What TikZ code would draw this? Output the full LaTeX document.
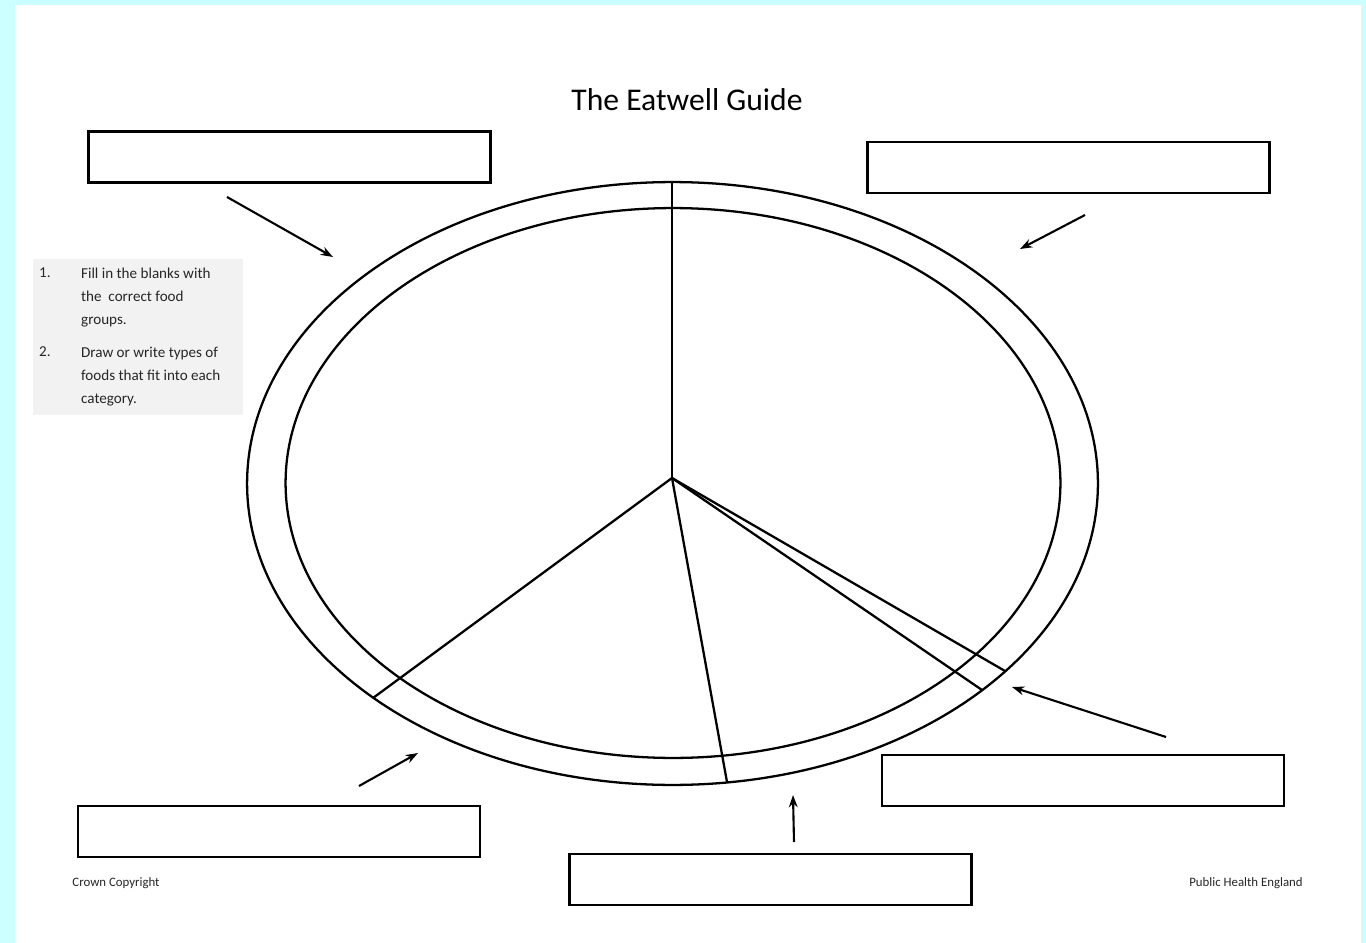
\documentclass[tikz,border=0pt]{standalone}
\usepackage{fontspec}
\setmainfont{Carlito}
\usetikzlibrary{arrows.meta}
\definecolor{pageCyan}{HTML}{CCFFFF}
\definecolor{noteGray}{HTML}{F2F2F2}
\definecolor{inkText}{HTML}{262626}

\begin{document}
\begin{tikzpicture}[x=0.02cm, y=-0.02cm, line width=1.3pt,
  blank/.style={draw, minimum width=8.04cm, minimum height=1.02cm, inner sep=0pt},
  pointer/.style={-{Stealth[length=7pt,width=5pt]}, line width=1.2pt},
  note/.style={anchor=north west, align=left, inner sep=0pt, text=inkText,
    font=\fontsize{8.6}{13}\selectfont}]
  % page
  \fill[pageCyan] (0,0) rectangle (1366,943);
  \fill[white] (15,5) rectangle (1361,943);
  \useasboundingbox (0,0) rectangle (1366,943);
  % title
  \node (title) at (687,100) {\fontsize{18}{21}\selectfont The Eatwell Guide};
  % plate
  \coordinate (mid) at (672,478);
  \draw (672.5,483.5) ellipse [x radius=8.51cm, y radius=6.03cm];
  \draw (673,483) ellipse [x radius=7.75cm, y radius=5.5cm];
  \coordinate (rimT) at (672,182);
  \coordinate (rimL) at (373,698);
  \coordinate (rimB) at (727,782);
  \coordinate (rimR) at (1005,671);
  \coordinate (rimS) at (982,690);
  \foreach \r in {rimT,rimL,rimB,rimR,rimS} \draw (mid) -- (\r);
  % blank labels
  \node[blank] (boxTL) at (289.5,157) {};
  \node[blank] (boxTR) at (1068.5,167.5) {};
  \node[blank] (boxBR) at (1083,780.5) {};
  \node[blank] (boxBL) at (279,831.5) {};
  \node[blank] (boxBC) at (770.5,879.5) {};
  % pointers
  \coordinate (tipTL) at (333,257); \coordinate (tailTL) at (227,197);
  \coordinate (tipTR) at (1020,249); \coordinate (tailTR) at (1085,215);
  \coordinate (tipBR) at (1012,687); \coordinate (tailBR) at (1166,737);
  \coordinate (tipBL) at (418,753); \coordinate (tailBL) at (359,786);
  \coordinate (tipBC) at (793,795); \coordinate (tailBC) at (794,842);
  \foreach \p in {TL,TR,BR,BL,BC} \draw[pointer] (tail\p) -- (tip\p);
  % instructions
  \node[fill=noteGray, minimum width=4.2cm, minimum height=3.12cm, anchor=north west, inner sep=0pt] (steps) at (32,258) {};
  \node[note] (num1) at (38,267) {1.};
  \node[note] (step1) at (80,267) {Fill in the blanks with\\the \ correct food\\groups.};
  \node[note] (num2) at (38,346) {2.};
  \node[note] (step2) at (80,346) {Draw or write types of\\foods that fit into each\\category.};
  % footer
  \node[text=inkText, font=\fontsize{7.3}{8}\selectfont] (crown) at (116,883) {Crown Copyright};
  \node[text=inkText, font=\fontsize{7.3}{8}\selectfont] (phe) at (1246,883) {Public Health England};
\end{tikzpicture}
\end{document}
